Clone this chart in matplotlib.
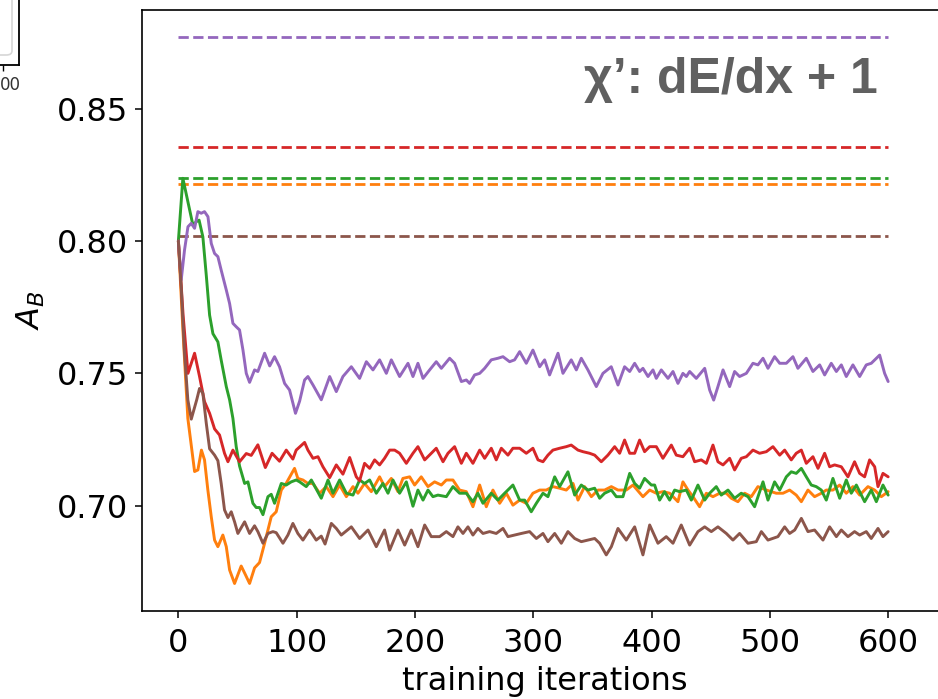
import matplotlib
matplotlib.use("Agg")
import matplotlib.pyplot as plt
from matplotlib.patches import FancyBboxPatch

# ---- training curves (iteration, A_B) ----
it_orange = [0, 4, 8, 13.7, 16.5, 19.5, 22.1, 24.9, 27.8, 30.6, 33.4, 37.6, 40.5, 43.3, 47.5, 53.1, 56.8, 60.2, 64.4, 68.6, 72.9, 75.7, 78.5, 82.7, 87, 91.2, 98.2, 101, 105.3, 109.5, 113.7, 119.4, 125, 130.7, 136.3, 142, 147.6, 151.8, 157.4, 163.1, 170.1, 174.3, 180, 185.6, 189.8, 195.5, 199.7, 205.3, 211, 216.6, 222.3, 226.5, 232.1, 237.7, 243.4, 249, 254.7, 260.3, 265.9, 271.6, 277.2, 282.8, 288.5, 294.1, 299.7, 305.4, 311, 316.6, 322.3, 327.9, 333.6, 337.8, 343.4, 349.1, 354.7, 360.3, 366, 371.6, 378.6, 384.3, 392.7, 398.4, 404, 409.6, 415.3, 422.3, 426.5, 430.8, 435, 440.6, 446.3, 451.9, 457.5, 463.2, 467.4, 473, 478.7, 484.3, 489.9, 497, 505.4, 511.1, 516.7, 522.3, 526.6, 532.2, 537.8, 543.5, 547.7, 553.3, 559, 564.6, 570.2, 575.9, 582.9, 588.6, 594.2, 600]
ab_orange = [0.800, 0.765, 0.733, 0.7129, 0.7135, 0.721, 0.7173, 0.706, 0.6958, 0.687, 0.6845, 0.6889, 0.6845, 0.6757, 0.6706, 0.6772, 0.6738, 0.6706, 0.6765, 0.6785, 0.6858, 0.6908, 0.6958, 0.6977, 0.7059, 0.7085, 0.7141, 0.7103, 0.7097, 0.7084, 0.7084, 0.7047, 0.7072, 0.7034, 0.7078, 0.7034, 0.7072, 0.7047, 0.7084, 0.7053, 0.7109, 0.7072, 0.7103, 0.7053, 0.7103, 0.7109, 0.7078, 0.7109, 0.7072, 0.709, 0.7078, 0.7097, 0.7097, 0.7059, 0.7053, 0.6996, 0.7078, 0.6996, 0.7059, 0.7009, 0.7047, 0.7002, 0.7021, 0.7009, 0.7047, 0.7059, 0.7059, 0.7072, 0.7066, 0.7059, 0.7084, 0.7021, 0.7072, 0.7034, 0.7059, 0.7059, 0.7072, 0.7059, 0.7059, 0.7078, 0.7034, 0.7059, 0.7047, 0.7053, 0.7047, 0.7015, 0.709, 0.7059, 0.7034, 0.6996, 0.7047, 0.7034, 0.7047, 0.7047, 0.7028, 0.7015, 0.7047, 0.7034, 0.7072, 0.7059, 0.7047, 0.7047, 0.7059, 0.704, 0.7015, 0.7059, 0.7034, 0.7047, 0.7059, 0.7059, 0.7078, 0.7047, 0.7072, 0.704, 0.7072, 0.7059, 0.7034, 0.7053]

it_green = [0, 3.8, 9.5, 12.3, 15.1, 17.5, 20.7, 23.6, 26.4, 29.2, 33.4, 36.2, 40.5, 43.3, 46.1, 48.9, 51.7, 56, 58.8, 63, 65.8, 68.6, 71.5, 75.7, 78.5, 81.3, 87, 91.2, 95.4, 99.6, 102.5, 108.1, 112.4, 120.8, 126.5, 130.7, 136.3, 142, 147.6, 153.2, 157.4, 161.7, 167.3, 172.9, 177.2, 181.4, 187, 192.7, 198.3, 202.5, 206.8, 211, 215.2, 219.4, 226.5, 232.1, 237.7, 243.4, 249, 253.2, 257.5, 264.5, 270.1, 275.8, 282.8, 288.5, 292.7, 298.3, 302.6, 308.2, 312.4, 318.1, 322.3, 329.3, 335, 340.6, 346.2, 351.9, 356.1, 360.3, 366, 370.2, 375.8, 381.5, 385.7, 389.9, 394.1, 399.8, 402.6, 406.8, 411, 415.3, 419.5, 423.7, 429.4, 433.6, 439.2, 444.9, 449.1, 454.7, 458.9, 464.6, 470.2, 475.8, 481.5, 487.1, 494.2, 498.4, 504, 508.3, 513.9, 518.1, 522.3, 526.6, 530.8, 535, 539.2, 543.5, 547.7, 553.3, 559, 564.6, 568.8, 573.1, 580.1, 585.7, 590, 595.6, 600]
ab_green = [0.800, 0.8237, 0.8117, 0.806, 0.8073, 0.8079, 0.8016, 0.787, 0.772, 0.765, 0.7619, 0.755, 0.745, 0.74, 0.733, 0.7223, 0.715, 0.7084, 0.709, 0.7009, 0.6993, 0.6993, 0.6966, 0.7034, 0.7043, 0.7009, 0.7084, 0.7078, 0.709, 0.7097, 0.709, 0.7072, 0.7097, 0.7028, 0.7097, 0.7047, 0.7097, 0.7047, 0.704, 0.7097, 0.7084, 0.7097, 0.7047, 0.7084, 0.7047, 0.7097, 0.7047, 0.709, 0.6998, 0.7059, 0.7021, 0.7059, 0.7034, 0.704, 0.7034, 0.7072, 0.7047, 0.7047, 0.7015, 0.7047, 0.7009, 0.7047, 0.7021, 0.7047, 0.7078, 0.7021, 0.7021, 0.6977, 0.7009, 0.7047, 0.7034, 0.7109, 0.7072, 0.7128, 0.704, 0.7078, 0.7059, 0.7066, 0.7028, 0.7047, 0.7059, 0.7034, 0.7034, 0.7122, 0.7084, 0.7066, 0.7103, 0.7078, 0.7078, 0.7021, 0.7053, 0.7021, 0.7059, 0.7053, 0.7059, 0.7021, 0.7078, 0.7021, 0.7047, 0.7072, 0.704, 0.7059, 0.7028, 0.7047, 0.7034, 0.6996, 0.709, 0.7021, 0.709, 0.7059, 0.7109, 0.7128, 0.7122, 0.7141, 0.7109, 0.7078, 0.7072, 0.7059, 0.7021, 0.7103, 0.7028, 0.7097, 0.7047, 0.7078, 0.7015, 0.7059, 0.7015, 0.7078, 0.704]

it_red = [0, 4, 8.1, 13.7, 17.9, 22.1, 26.4, 30.6, 34.8, 39, 41.9, 46.1, 51.7, 57.4, 61.6, 67.2, 73.5, 79.2, 85.5, 91.2, 96.8, 99.6, 106.7, 109.5, 113.8, 118, 122.2, 127.9, 133.5, 139.1, 144.8, 150.4, 153.2, 157.4, 161.7, 165.9, 170.1, 174.3, 178.6, 182.8, 187, 192.7, 198.3, 202.5, 208.2, 213.8, 218, 223.7, 227.9, 233.5, 239.2, 243.4, 249, 254.7, 258.9, 264.5, 268.7, 273, 278.6, 282.8, 288.5, 294.1, 299.7, 304, 308.2, 312.4, 316.6, 322.3, 327.9, 332.1, 337.8, 342, 347.6, 351.9, 357.5, 363.1, 368.8, 373, 377.2, 381.5, 385.7, 389.9, 394.1, 398.4, 404, 409.6, 416.7, 420.9, 426.5, 432.2, 436.4, 442, 446.3, 451.9, 456.1, 460.4, 466, 470.2, 475.8, 480.1, 485.7, 491.3, 497, 502.6, 508.3, 512.5, 518.1, 522.3, 526.6, 530.8, 536.4, 540.7, 546.3, 550.5, 554.7, 560.4, 566, 571.6, 575.9, 580.1, 584.3, 588.6, 591.4, 595.6, 600]
ab_red = [0.800, 0.772, 0.750, 0.7576, 0.7488, 0.7393, 0.7349, 0.729, 0.7267, 0.7198, 0.7166, 0.721, 0.7166, 0.7197, 0.719, 0.723, 0.7144, 0.7198, 0.7168, 0.721, 0.7176, 0.721, 0.7239, 0.721, 0.7179, 0.7185, 0.7147, 0.7106, 0.7154, 0.7119, 0.7182, 0.7109, 0.7094, 0.716, 0.7141, 0.7173, 0.7154, 0.7179, 0.721, 0.721, 0.7198, 0.716, 0.7198, 0.7223, 0.7173, 0.7198, 0.7217, 0.7166, 0.7198, 0.7223, 0.716, 0.7198, 0.716, 0.721, 0.7179, 0.7217, 0.7173, 0.7217, 0.7191, 0.7217, 0.7217, 0.7198, 0.7217, 0.7173, 0.7166, 0.7191, 0.721, 0.7217, 0.7223, 0.7229, 0.721, 0.7204, 0.7198, 0.7191, 0.7166, 0.7191, 0.7223, 0.7198, 0.7248, 0.7198, 0.7198, 0.7248, 0.7204, 0.7223, 0.7223, 0.7179, 0.7229, 0.7191, 0.7185, 0.7217, 0.7166, 0.7173, 0.716, 0.7229, 0.7166, 0.7154, 0.7179, 0.7135, 0.7179, 0.7185, 0.721, 0.7198, 0.7204, 0.7223, 0.7191, 0.721, 0.7173, 0.7198, 0.721, 0.716, 0.7185, 0.7141, 0.7198, 0.7147, 0.7154, 0.7147, 0.7109, 0.7166, 0.7122, 0.7109, 0.7173, 0.7147, 0.7072, 0.7122, 0.7109]

it_purple = [0, 2.4, 5.2, 8.1, 10.9, 13.7, 16.5, 19.3, 22.1, 25, 27.8, 30.6, 33.4, 36.2, 40.5, 43.3, 46.1, 48.9, 51.7, 54.6, 57.4, 60.2, 64.4, 67.2, 72.9, 77.2, 81.3, 85.5, 89.8, 94, 99, 102.5, 106.7, 109.5, 113.8, 120.8, 127.9, 133.5, 139.1, 146.2, 153.2, 158.9, 164.5, 170.1, 175.8, 180, 187, 194.1, 198.3, 202.5, 206.8, 212.4, 218, 222.3, 229.3, 233.5, 239.2, 243.4, 246.2, 250.4, 254.7, 258.9, 264.5, 270.1, 274.4, 280, 284.2, 288.5, 294.1, 299.7, 305.4, 309.6, 313.8, 320.9, 325.1, 332.1, 336.4, 340.6, 346.2, 353.3, 358.9, 365.9, 371.6, 377.2, 381.5, 385.7, 389.9, 392.7, 397, 401.2, 404, 408.2, 413.9, 418.1, 422.3, 426.5, 429.4, 432.2, 437.8, 444.9, 449.1, 452.5, 456.1, 460.4, 466, 470.2, 474.4, 480.1, 485.7, 489.9, 494.2, 498.4, 504, 508.3, 513.9, 519.5, 523.7, 530.8, 536.4, 542.1, 546.3, 551.9, 556.2, 560.4, 564.6, 570.2, 575.9, 581.5, 585.7, 592.8, 597, 600]
ab_purple = [0.800, 0.7853, 0.7966, 0.8054, 0.8067, 0.8048, 0.8111, 0.8105, 0.8111, 0.8092, 0.7991, 0.7953, 0.7941, 0.789, 0.7815, 0.7764, 0.7689, 0.7676, 0.7664, 0.7588, 0.750, 0.7466, 0.7513, 0.7507, 0.7576, 0.7528, 0.7563, 0.7525, 0.7462, 0.7437, 0.7349, 0.7395, 0.7475, 0.7488, 0.7456, 0.740, 0.7488, 0.7431, 0.7488, 0.7525, 0.7481, 0.7544, 0.7513, 0.7551, 0.750, 0.7551, 0.7488, 0.7538, 0.7488, 0.7538, 0.7481, 0.7513, 0.7544, 0.7519, 0.7557, 0.7538, 0.7469, 0.7475, 0.7462, 0.7494, 0.750, 0.7519, 0.7551, 0.7557, 0.7563, 0.7544, 0.7551, 0.7582, 0.7538, 0.7588, 0.7525, 0.7551, 0.7494, 0.7576, 0.750, 0.7551, 0.7513, 0.7557, 0.7513, 0.745, 0.750, 0.7525, 0.7456, 0.7525, 0.7507, 0.7538, 0.7507, 0.7519, 0.7488, 0.7513, 0.7481, 0.7513, 0.7481, 0.7507, 0.7462, 0.750, 0.7488, 0.7507, 0.7481, 0.7519, 0.7437, 0.7399, 0.745, 0.7513, 0.745, 0.7507, 0.7488, 0.750, 0.7538, 0.7532, 0.7557, 0.7519, 0.7563, 0.7538, 0.7538, 0.7563, 0.7519, 0.7557, 0.7507, 0.7532, 0.7494, 0.7538, 0.7507, 0.7532, 0.7488, 0.7532, 0.7488, 0.7532, 0.7538, 0.7569, 0.750, 0.7469]

it_brown = [0, 2.4, 5.2, 8, 10.9, 15.5, 17.9, 20.7, 23.6, 26.4, 30.6, 33.4, 36.2, 39, 41.9, 44.7, 47.5, 50.3, 56, 60.2, 64.4, 67.2, 71.5, 75.7, 79.9, 82.7, 88.4, 92.6, 96.8, 101, 105.3, 110.9, 116.5, 120.8, 124, 129.3, 133.5, 137.7, 146.2, 153.2, 160.3, 167.3, 174.3, 178.6, 185.6, 191.3, 196.9, 202.5, 208.2, 213.8, 220.8, 226.5, 232.1, 236.3, 240.6, 244.8, 249, 253.2, 257.5, 263.1, 268.7, 274.4, 278.6, 284.2, 289.9, 296.9, 302.6, 308.2, 312.4, 318.1, 323.7, 329.3, 335, 340.6, 346.2, 351.9, 356.1, 361.7, 366, 371.6, 378.6, 385.7, 392.7, 398.4, 405.4, 412.4, 418.1, 425.1, 432.2, 439.2, 444.9, 450.5, 456.1, 463.2, 468.8, 474.4, 481.5, 488.5, 492.8, 498.4, 506.8, 512.5, 516.7, 521, 526.6, 532.2, 537.8, 544.9, 550.5, 556.2, 560.4, 566, 571.6, 575.9, 581.5, 585.7, 591.4, 595.6, 600]
ab_brown = [0.800, 0.7827, 0.7575, 0.740, 0.7327, 0.740, 0.7443, 0.7425, 0.7311, 0.7215, 0.7191, 0.717, 0.7084, 0.6984, 0.6955, 0.6977, 0.6939, 0.6895, 0.6939, 0.6895, 0.6924, 0.6902, 0.6858, 0.6895, 0.6902, 0.6898, 0.6858, 0.6889, 0.6933, 0.6895, 0.687, 0.6908, 0.687, 0.6885, 0.6855, 0.6933, 0.6914, 0.6889, 0.692, 0.6876, 0.6908, 0.6845, 0.6908, 0.6832, 0.6908, 0.6851, 0.6908, 0.6845, 0.6927, 0.6883, 0.6883, 0.6902, 0.6883, 0.692, 0.6895, 0.692, 0.6889, 0.6914, 0.6895, 0.6902, 0.6895, 0.6914, 0.6883, 0.6889, 0.6895, 0.6902, 0.6876, 0.6895, 0.6864, 0.6895, 0.6858, 0.6902, 0.6876, 0.6864, 0.687, 0.6876, 0.6858, 0.6814, 0.6845, 0.6914, 0.687, 0.692, 0.6814, 0.6927, 0.6858, 0.6883, 0.6858, 0.6927, 0.6851, 0.6902, 0.692, 0.6902, 0.692, 0.6895, 0.687, 0.6895, 0.6858, 0.6864, 0.6902, 0.687, 0.6883, 0.692, 0.6895, 0.6908, 0.6952, 0.6902, 0.6908, 0.687, 0.692, 0.6883, 0.6908, 0.6883, 0.6902, 0.6889, 0.6902, 0.6876, 0.6914, 0.6883, 0.6902]

# reference levels (dashed)
ref_orange = 0.8216
ref_green = 0.8238
ref_red = 0.8355
ref_purple = 0.8770
ref_brown = 0.8020

ref_span = [0, 600]
xticks = [0, 100, 200, 300, 400, 500, 600]
yticks = [0.70, 0.75, 0.80, 0.85]
annotation = "\u03c7\u2019: dE/dx + 1"
neighbour_label = "00"

series = [
    (it_orange, ab_orange, ref_orange, "tab:orange"),
    (it_green, ab_green, ref_green, "tab:green"),
    (it_red, ab_red, ref_red, "tab:red"),
    (it_purple, ab_purple, ref_purple, "tab:purple"),
    (it_brown, ab_brown, ref_brown, "tab:brown"),
]

W, H = 938, 699
fig = plt.figure(figsize=(W / 100, H / 100), dpi=100)

# main axes; the right part runs past the canvas edge
x_lo, x_hi = -31, 651
ax = fig.add_axes([141.7 / W, 88 / H, 806.8 / W, 601 / H])

for it, ab, ref, col in series:
    ax.plot(ref_span, [ref, ref], ls="--", color=col, lw=2.0)
for it, ab, ref, col in series:
    ax.plot(it, ab, color=col, lw=2.1, solid_joinstyle="round",
            solid_capstyle="round")

ax.set_xlim(x_lo, x_hi)
ax.set_ylim(0.6602, 0.8873)
ax.set_xticks(xticks)
ax.set_yticks(yticks)
ax.set_yticklabels([f"{v:.2f}" for v in yticks])
ax.tick_params(labelsize=23, length=5, width=1.1)
ax.tick_params(axis="x", pad=7.5)
ax.tick_params(axis="y", pad=5)
for s in ax.spines.values():
    s.set_linewidth(1.2)
ax.set_xlabel("training iterations", fontsize=23, labelpad=5)
ax.set_ylabel("$A_B$", fontsize=23, labelpad=7)

ax.text(591, 0.8608, annotation, ha="right", va="center", fontsize=36,
        fontweight="bold", color="#606060", family=["Liberation Sans", "DejaVu Sans"])

# edge of the neighbouring panel (top-left corner)
ax_n = fig.add_axes([-0.3, 634 / H, 0.3 + 19 / W, 0.3])
ax_n.set_xlim(0, 1)
ax_n.set_ylim(0, 1)
ax_n.set_yticks([])
tick_x = 1 - (19 - 3.3) / (0.3 * W + 19)
ax_n.set_xticks([tick_x])
ax_n.set_xticklabels([""])
ax_n.tick_params(length=4, width=1.0)
for s in ax_n.spines.values():
    s.set_linewidth(1.3)
fig.text(10.5 / W, 1 - 85 / H, neighbour_label, ha="center", va="center",
         fontsize=12, color="#333333")
frame = FancyBboxPatch((-100 / W, 644 / H), 112 / W, 0.2,
                       boxstyle="round,pad=0,rounding_size=0.006",
                       transform=fig.transFigure, facecolor="none",
                       edgecolor="#d6d6d6", lw=1.2)
fig.add_artist(frame)

fig.savefig("out.png", dpi=100)
